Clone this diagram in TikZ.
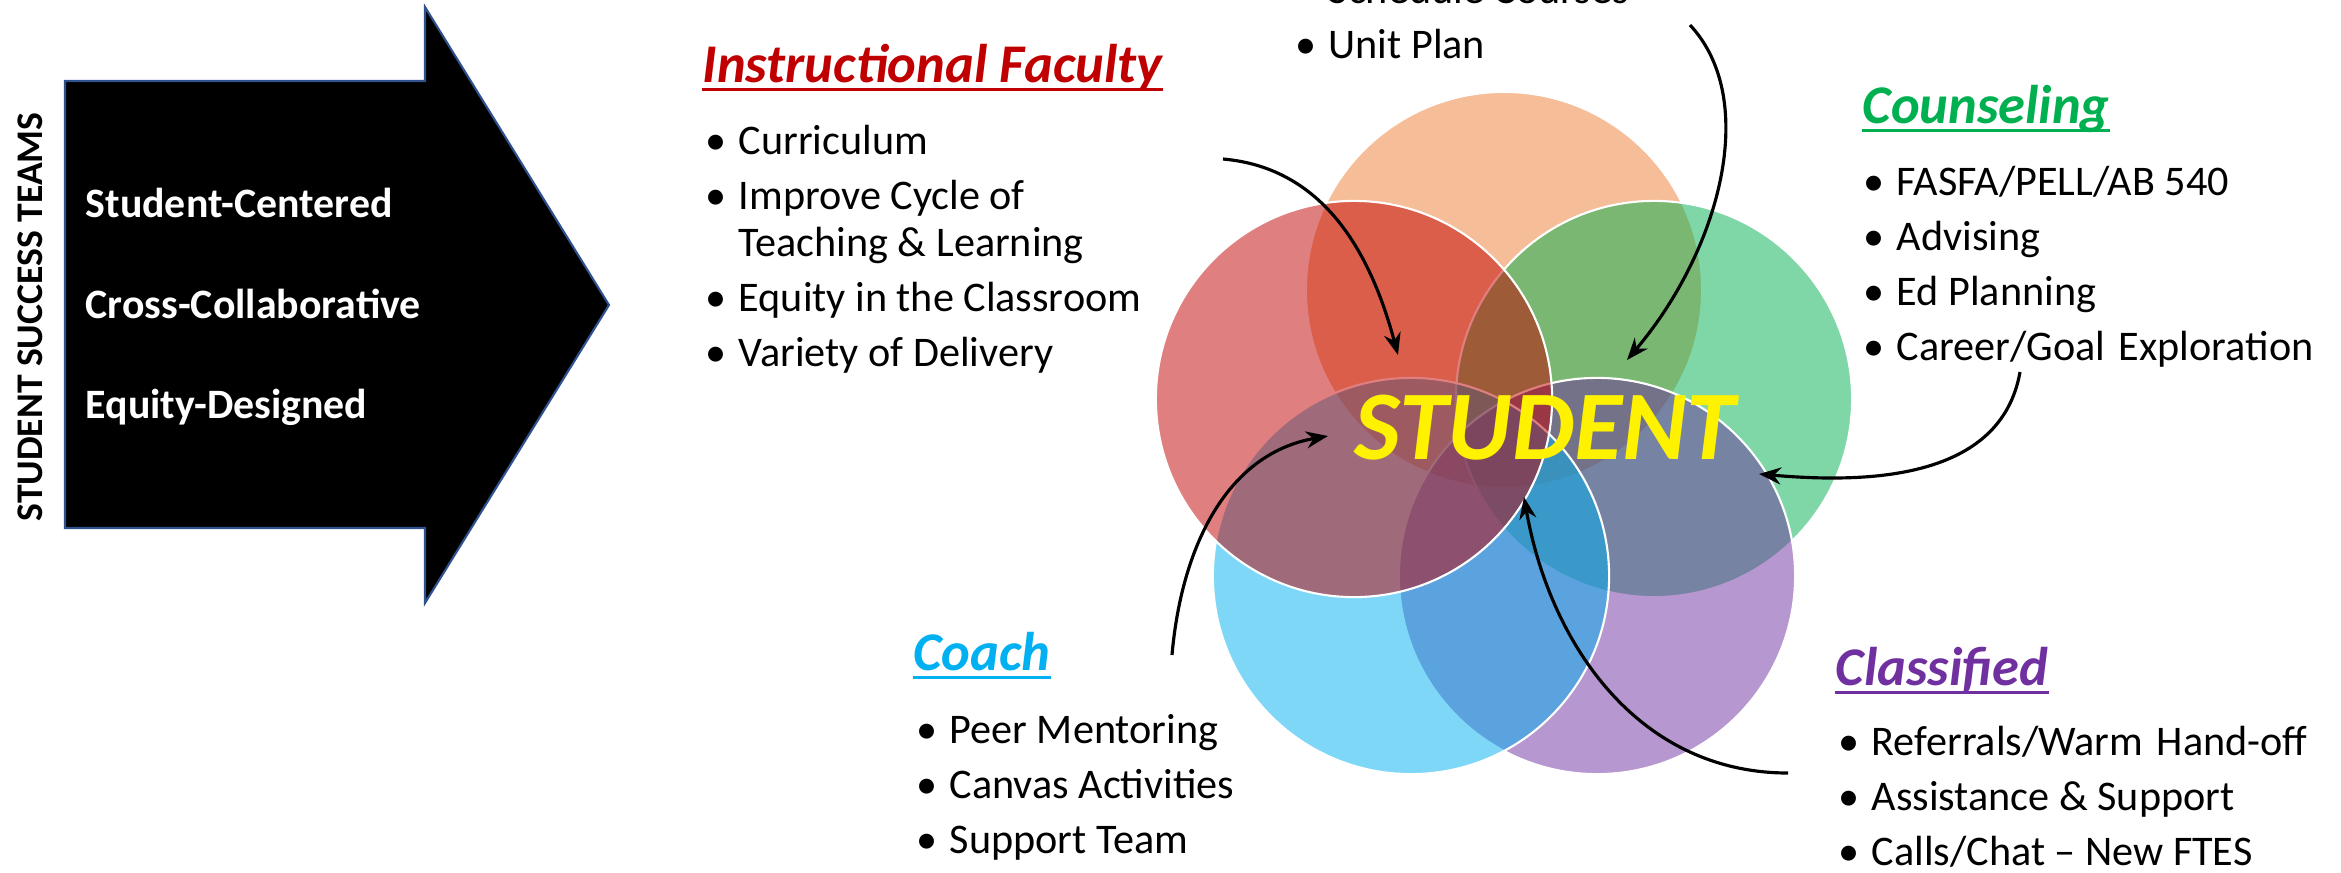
\documentclass[tikz,border=0pt]{standalone}
\usepackage{fontspec}
\setmainfont{Carlito}
\usetikzlibrary{arrows.meta, positioning}
\definecolor{facred}{HTML}{C00000}
\definecolor{cnsgreen}{HTML}{00B050}
\definecolor{coachblue}{HTML}{00B0F0}
\definecolor{clspurple}{HTML}{7030A0}
\definecolor{admorange}{HTML}{ED7D31}
\definecolor{edgeblue}{HTML}{2F528F}
\newcommand{\bul}{\makebox[0.26cm][l]{\kern-0.07cm\textbullet}}

\begin{document}
\begin{tikzpicture}[x=0.01cm, y=-0.01cm,
    blob/.style={circle, minimum size=3.96cm, inner sep=0pt, draw=white, line width=0.6pt, fill opacity=0.5},
    hd/.style={anchor=base west, inner sep=0pt, font=\fontsize{15.5}{18}\selectfont\bfseries\itshape},
    lst/.style={anchor=base west, inner sep=0pt, font=\fontsize{12}{13.4}\selectfont},
    side/.style={anchor=base west, inner sep=0pt, text=white, font=\fontsize{11.9}{14}\selectfont\bfseries},
    arrow/.style={-{Stealth[length=0.22cm, width=0.17cm]}, line width=0.9pt},
    uline/.style={line width=0.03cm}
]
\useasboundingbox (0,0) rectangle (2341,872);

% Big arrow on the left
\draw[fill=black, draw=edgeblue, line width=0.6pt] (65,81) -- (425,81) -- (425,7) -- (609,305)
    -- (425,603) -- (425,528) -- (65,528) -- cycle;
\node[rotate=90, anchor=base, inner sep=0pt, font=\fontsize{10.7}{12}\selectfont\bfseries] (sst) at (42,317) {STUDENT SUCCESS TEAMS};
\node[side] (stc) at (85,217) {Student-Centered};
\node[side] (crc) at (85,318) {Cross-Collaborative};
\node[side] (eqd) at (85,418) {Equity-Designed};

% Circles
\node[blob, fill=admorange] (adm) at (1504,290) {};
\node[blob, fill=cnsgreen] (cns) at (1654,399) {};
\node[blob, fill=clspurple] (cls) at (1597,576) {};
\node[blob, fill=coachblue] (cch) at (1411,576) {};
\node[blob, fill=facred] (fac) at (1354,399) {};
\node[anchor=base, inner sep=0pt, text=yellow, font=\fontsize{28}{32}\selectfont\bfseries\itshape] (stu) at (1545,459) {STUDENT};

% Headings
\node[hd, text=facred] (fachd) at (702,82) {Instructional Faculty};
\node[hd, text=cnsgreen] (cnshd) at (1862,123) {Counseling};
\node[hd, text=coachblue] (cchhd) at (913,670) {Coach};
\node[hd, text=clspurple] (clshd) at (1835,685) {Classified};
\foreach \h/\c in {fachd/facred, cnshd/cnsgreen, cchhd/coachblue, clshd/clspurple}
    \draw[uline, \c] ([yshift=-0.075cm]\h.base west) -- ([yshift=-0.075cm]\h.base east);

% Lists
\node[lst] (admlst) at (1302,3) {\begin{tabular}[t]{@{}l@{}l@{}}
    \bul & Schedule Courses\\[0.08cm]
    \bul & Unit Plan
\end{tabular}};
\node[lst] (faclst) at (712,154) {\begin{tabular}[t]{@{}l@{}l@{}}
    \bul & Curriculum\\[0.08cm]
    \bul & Improve Cycle of\\
         & Teaching \& Learning\\[0.08cm]
    \bul & Equity in the Classroom\\[0.08cm]
    \bul & Variety of Delivery
\end{tabular}};
\node[lst] (cnslst) at (1870,195) {\begin{tabular}[t]{@{}l@{}l@{}}
    \bul & FASFA/PELL/AB 540\\[0.08cm]
    \bul & Advising\\[0.08cm]
    \bul & Ed Planning\\[0.08cm]
    \bul & Career/Goal\hspace{0.04cm} Exploration
\end{tabular}};
\node[lst] (cchlst) at (923,743) {\begin{tabular}[t]{@{}l@{}l@{}}
    \bul & Peer Mentoring\\[0.08cm]
    \bul & Canvas Activities\\[0.08cm]
    \bul & Support Team
\end{tabular}};
\node[lst] (clslst) at (1845,755) {\begin{tabular}[t]{@{}l@{}l@{}}
    \bul & Referrals/Warm\hspace{0.04cm} Hand-off\\[0.08cm]
    \bul & Assistance \& Support\\[0.08cm]
    \bul & Calls/Chat -- New FTES
\end{tabular}};

% Curved arrows into the student
\coordinate (facs) at (1223,159);
\coordinate (face) at (1398,355);
\coordinate (adms) at (1690,25);
\coordinate (adme) at (1627,360);
\coordinate (cnss) at (2020,372);
\coordinate (cnse) at (1759,474);
\coordinate (cchs) at (1172,655);
\coordinate (cche) at (1328,436);
\coordinate (clss) at (1788,773);
\coordinate (clse) at (1524,497);
\draw[arrow] (facs) to[out=-5, in=105] (face);
\draw[arrow] (adms) .. controls (1760,100) and (1720,250) .. (adme);
\draw[arrow] (cnss) to[out=-100, in=-5] (cnse);
\draw[arrow] (cchs) to[out=85, in=190] (cche);
\draw[arrow] (clss) to[out=180, in=-80] (clse);
\end{tikzpicture}
\end{document}
